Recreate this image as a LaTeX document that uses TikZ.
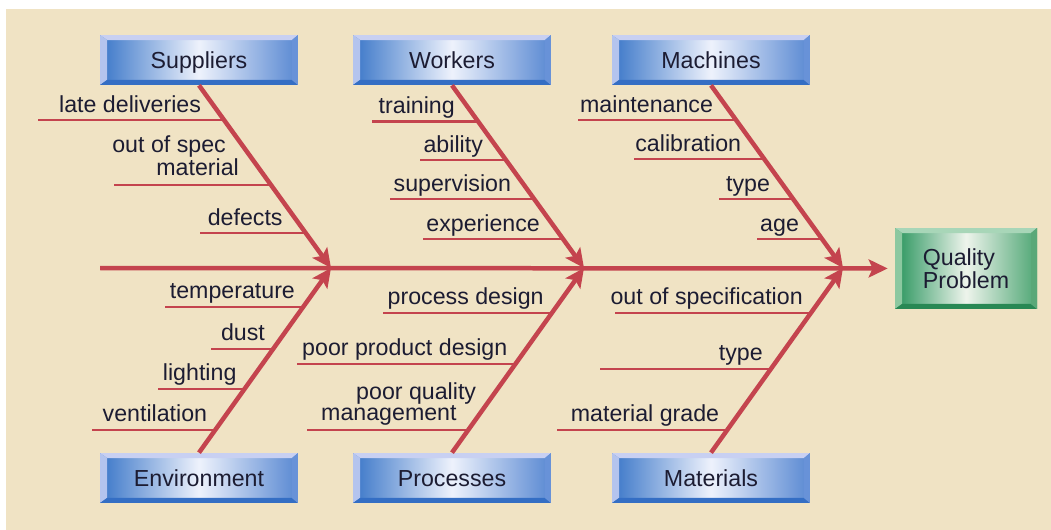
\documentclass[tikz,border=0pt]{standalone}
\usepackage{fontspec}
\setmainfont{Liberation Sans}
\usetikzlibrary{arrows.meta, calc}

\definecolor{paper}{RGB}{240,227,196}
\definecolor{bonered}{RGB}{196,68,78}
\definecolor{ink}{RGB}{28,28,50}
\definecolor{blueL}{RGB}{58,118,200}
\definecolor{blueM}{RGB}{238,242,252}
\definecolor{blueR}{RGB}{88,136,210}
\definecolor{blueTop}{RGB}{200,208,242}
\definecolor{blueLeft}{RGB}{180,196,238}
\definecolor{blueBot}{RGB}{52,110,196}
\definecolor{blueRight}{RGB}{104,146,216}
\definecolor{greenL}{RGB}{40,148,92}
\definecolor{greenM}{RGB}{238,244,236}
\definecolor{greenR}{RGB}{78,166,116}
\definecolor{greenTop}{RGB}{168,214,184}
\definecolor{greenLeft}{RGB}{140,200,160}
\definecolor{greenBot}{RGB}{40,136,84}
\definecolor{greenRight}{RGB}{90,168,120}

\newcommand{\fishfont}{\fontsize{13.2}{12}\selectfont}

\tikzset{
  bevel/.style n args={4}{path picture={
    \coordinate (onw) at (path picture bounding box.north west);
    \coordinate (ose) at (path picture bounding box.south east);
    \coordinate (inw) at ([shift={(0.14cm,-0.1cm)}]onw);
    \coordinate (ise) at ([shift={(-0.12cm,0.1cm)}]ose);
    \fill[#1] (onw) -- (onw -| ose) -- (inw -| ise) -- (inw) -- cycle;
    \fill[#2] (onw) -- (inw) -- (inw |- ise) -- (onw |- ose) -- cycle;
    \fill[#3] (onw |- ose) -- (ose) -- (ise) -- (inw |- ise) -- cycle;
    \fill[#4] (onw -| ose) -- (ose) -- (ise) -- (inw -| ise) -- cycle;
  }},
  catbox/.style={rectangle, minimum width=3.96cm, minimum height=1cm, inner sep=0,
    left color=blueL, right color=blueR, middle color=blueM,
    text height=0.33cm, text depth=0pt,
    bevel={blueTop}{blueLeft}{blueBot}{blueRight}, text=ink, font=\fishfont},
  qualbox/.style={rectangle, minimum width=2.84cm, minimum height=1.62cm, inner sep=0,
    left color=greenL, right color=greenR, middle color=greenM, align=left,
    bevel={greenTop}{greenLeft}{greenBot}{greenRight}, text=ink, font=\fishfont},
  bone/.style={draw=bonered, line width=0.09cm,
    -{Stealth[length=0.38cm, width=0.36cm, inset=0.08cm]}},
  rib/.style={draw=bonered, line width=0.05cm},
  lbl/.style={inner sep=0, text=ink, font=\fishfont},
  toplbl/.style={lbl, anchor=base east, xshift=-0.44cm, yshift=0.16cm},
  botlbl/.style={lbl, anchor=base east, xshift=-0.14cm, yshift=0.16cm},
  twolbl/.style={lbl, anchor=south east, align=left, text depth=0pt, yshift=0.16cm}
}

\begin{document}
\begin{tikzpicture}[x=0.02cm, y=-0.02cm]
    \useasboundingbox (0,0) rectangle (1051,530);
    \fill[paper] (6,9) rectangle (1051,530);

    % categories
    \node[catbox] (sup) at (199,60) {Suppliers};
    \node[catbox] (wrk) at (452,60) {Workers};
    \node[catbox] (mac) at (711,60) {Machines};
    \node[catbox] (env) at (199,478) {Environment};
    \node[catbox] (pro) at (452,478) {Processes};
    \node[catbox] (mat) at (711,478) {Materials};
    \node[qualbox] (qual) at (966,268.5) {Quality\\Problem};

    % spine
    \coordinate (tail) at (100,268);
    \coordinate (sp1) at (331,268);
    \coordinate (sp2) at (584,268);
    \coordinate (sp3) at (843,268);
    \draw[bone, shorten >=0.14cm] (tail) -- (qual);

    \draw[bone] (sup.south) -- (sp1);
    \draw[bone] (wrk.south) -- (sp2);
    \draw[bone] (mac.south) -- (sp3);
    \draw[bone] (env.north) -- (sp1);
    \draw[bone] (pro.north) -- (sp2);
    \draw[bone] (mat.north) -- (sp3);

    % suppliers
    \draw[rib] ($(sup.south)!.191!(sp1)$) node[toplbl] (lateDel) {late deliveries} -- ++(-186,0);
    \draw[rib] ($(sup.south)!.546!(sp1)$) node[twolbl, xshift=-0.62cm] (outSpec) {out of spec\\\hspace*{0.88cm}material} -- ++(-157,0);
    \draw[rib] ($(sup.south)!.809!(sp1)$) node[toplbl] (defects) {defects} -- ++(-106,0);

    % workers
    \draw[rib] ($(wrk.south)!.197!(sp2)$) node[toplbl] (training) {training} -- ++(-106,0);
    \draw[rib] ($(wrk.south)!.410!(sp2)$) node[toplbl] (ability) {ability} -- ++(-86,0);
    \draw[rib] ($(wrk.south)!.623!(sp2)$) node[toplbl] (superv) {supervision} -- ++(-144,0);
    \draw[rib] ($(wrk.south)!.842!(sp2)$) node[toplbl] (exper) {experience} -- ++(-140,0);

    % machines
    \draw[rib] ($(mac.south)!.191!(sp3)$) node[toplbl] (maint) {maintenance} -- ++(-158,0);
    \draw[rib] ($(mac.south)!.404!(sp3)$) node[toplbl] (calib) {calibration} -- ++(-130,0);
    \draw[rib] ($(mac.south)!.623!(sp3)$) node[toplbl] (macType) {type} -- ++(-74,0);
    \draw[rib] ($(mac.south)!.842!(sp3)$) node[toplbl] (age) {age} -- ++(-65,0);

    % environment
    \draw[rib] ($(env.north)!.789!(sp1)$) node[botlbl] (temp) {temperature} -- ++(-138,0);
    \draw[rib] ($(env.north)!.562!(sp1)$) node[botlbl] (dust) {dust} -- ++(-62,0);
    \draw[rib] ($(env.north)!.346!(sp1)$) node[botlbl] (light) {lighting} -- ++(-87,0);
    \draw[rib] ($(env.north)!.124!(sp1)$) node[botlbl] (vent) {ventilation} -- ++(-123,0);

    % processes
    \draw[rib] ($(pro.north)!.757!(sp2)$) node[botlbl] (procDes) {process design} -- ++(-169,0);
    \draw[rib] ($(pro.north)!.481!(sp2)$) node[botlbl] (prodDes) {poor product design} -- ++(-218,0);
    \draw[rib] ($(pro.north)!.124!(sp2)$) node[twolbl, xshift=0.18cm] (qualMgmt) {\hspace*{0.7cm}poor quality\\management} -- ++(-161,0);

    % materials
    \draw[rib] ($(mat.north)!.757!(sp3)$) node[botlbl] (outSpecif) {out of specification} -- ++(-196,0);
    \draw[rib] ($(mat.north)!.454!(sp3)$) node[botlbl] (matType) {type} -- ++(-171,0);
    \draw[rib] ($(mat.north)!.124!(sp3)$) node[botlbl] (grade) {material grade} -- ++(-170,0);
\end{tikzpicture}
\end{document}
